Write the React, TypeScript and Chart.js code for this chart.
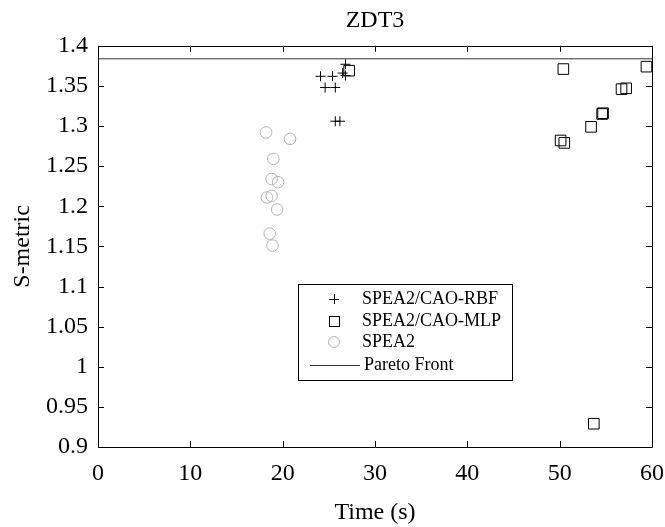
import React, { useEffect, useRef } from "react";
import { Chart, registerables } from "chart.js";

Chart.register(...registerables);

// S-metric vs run time on ZDT3
const rbfTime = [24.1, 25.4, 24.6, 25.7, 26.8, 26.5, 26.8, 25.7, 26.2];
const rbfS = [1.362, 1.362, 1.348, 1.348, 1.377, 1.366, 1.363, 1.306, 1.306];

const mlpTime = [27.2, 50.4, 59.4, 56.7, 57.2, 54.6, 54.7, 53.4, 50.1, 50.5, 53.7];
const mlpS = [1.369, 1.371, 1.374, 1.346, 1.347, 1.315, 1.316, 1.299, 1.282, 1.279, 0.929];

const speaTime = [18.2, 20.8, 19.0, 18.8, 19.5, 18.3, 18.8, 19.4, 18.6, 18.9];
const speaS = [1.292, 1.284, 1.259, 1.234, 1.23, 1.211, 1.213, 1.196, 1.166, 1.151];

const paretoTime = [0, 60];
const paretoS = [1.3838, 1.3838];

const seriesNames = ["SPEA2/CAO-RBF", "SPEA2/CAO-MLP", "SPEA2", "Pareto Front"];

const SERIF = "'Liberation Serif', 'Times New Roman', serif";

const zip = (xs: number[], ys: number[]) => xs.map((x, i) => ({ x, y: ys[i] }));

// Frame with inward tick marks on all four sides, plus a boxed legend
const framePlugin = {
  id: "frameTicks",
  afterDatasetsDraw(chart: any) {
    const { ctx, chartArea: a, scales } = chart;
    const xs = scales.x;
    const ys = scales.y;
    ctx.save();
    ctx.strokeStyle = "#000";
    ctx.lineWidth = 1;
    ctx.beginPath();
    ctx.rect(Math.round(a.left) + 0.5, Math.round(a.top) + 0.5, Math.round(a.right - a.left), Math.round(a.bottom - a.top));
    ctx.stroke();
    const tl = 6;
    ctx.beginPath();
    xs.ticks.forEach((t: any) => {
      const px = Math.round(xs.getPixelForValue(t.value)) + 0.5;
      ctx.moveTo(px, a.bottom);
      ctx.lineTo(px, a.bottom - tl);
      ctx.moveTo(px, a.top);
      ctx.lineTo(px, a.top + tl);
    });
    ys.ticks.forEach((t: any) => {
      const py = Math.round(ys.getPixelForValue(t.value)) + 0.5;
      ctx.moveTo(a.left, py);
      ctx.lineTo(a.left + tl, py);
      ctx.moveTo(a.right, py);
      ctx.lineTo(a.right - tl, py);
    });
    ctx.stroke();

    // legend
    const bx = 298.5, by = 284.5, bw = 214, bh = 96;
    ctx.fillStyle = "#fff";
    ctx.fillRect(bx, by, bw, bh);
    ctx.strokeStyle = "#000";
    ctx.strokeRect(bx, by, bw, bh);
    const rowY = [299, 321, 342, 365];
    const symX = 334;
    const textX = 362;
    ctx.font = `18px ${SERIF}`;
    ctx.textBaseline = "middle";
    ctx.textAlign = "left";
    ctx.fillStyle = "#000";
    // plus
    ctx.beginPath();
    ctx.moveTo(symX - 5, rowY[0] + 0.5);
    ctx.lineTo(symX + 5, rowY[0] + 0.5);
    ctx.moveTo(symX + 0.5, rowY[0] - 5);
    ctx.lineTo(symX + 0.5, rowY[0] + 5);
    ctx.stroke();
    // square
    ctx.strokeRect(symX - 4.5, rowY[1] - 4.5, 10, 10);
    // circle
    ctx.strokeStyle = "#b4b4b4";
    ctx.beginPath();
    ctx.arc(symX, rowY[2], 5.5, 0, Math.PI * 2);
    ctx.stroke();
    // line
    ctx.strokeStyle = "#333";
    ctx.beginPath();
    ctx.moveTo(310, rowY[3] + 0.5);
    ctx.lineTo(360, rowY[3] + 0.5);
    ctx.stroke();
    seriesNames.forEach((n, i) => ctx.fillText(n, i === 3 ? 364 : textX, rowY[i]));
    ctx.restore();
  },
};

export default function App() {
  const ref = useRef<HTMLCanvasElement | null>(null);

  useEffect(() => {
    document.body.style.margin = "0";
    const canvas = ref.current;
    if (!canvas) return;
    const chart = new Chart(canvas, {
      type: "scatter",
      data: {
        datasets: [
          {
            label: seriesNames[0],
            data: zip(rbfTime, rbfS),
            pointStyle: "cross",
            pointRadius: 5,
            borderColor: "#000",
            borderWidth: 1,
            backgroundColor: "transparent",
          },
          {
            label: seriesNames[1],
            data: zip(mlpTime, mlpS),
            pointStyle: "rect",
            pointRadius: 7.5,
            borderColor: "#000",
            borderWidth: 1,
            backgroundColor: "transparent",
          },
          {
            label: seriesNames[2],
            data: zip(speaTime, speaS),
            pointStyle: "circle",
            pointRadius: 5.8,
            borderColor: "#b4b4b4",
            borderWidth: 1,
            backgroundColor: "transparent",
          },
          {
            type: "line",
            label: seriesNames[3],
            data: zip(paretoTime, paretoS),
            showLine: true,
            pointRadius: 0,
            borderColor: "#333",
            borderWidth: 1,
          } as any,
        ],
      },
      options: {
        responsive: false,
        animation: false,
        layout: { padding: { left: 0, right: 13, top: 0, bottom: 0 } },
        plugins: {
          legend: { display: false },
          tooltip: { enabled: false },
          title: {
            display: true,
            fullSize: false,
            text: "ZDT3",
            color: "#000",
            font: { family: SERIF, size: 24, weight: "normal" },
            padding: { top: 6, bottom: 11 },
          },
        },
        scales: {
          x: {
            type: "linear",
            min: 0,
            max: 60,
            ticks: {
              stepSize: 10,
              color: "#000",
              font: { family: SERIF, size: 24 },
              padding: 12,
              maxRotation: 0,
            },
            grid: { display: false, drawTicks: false },
            border: { display: false },
            title: {
              display: true,
              text: "Time (s)",
              color: "#000",
              font: { family: SERIF, size: 24 },
              padding: { top: 0, bottom: 0 },
            },
            afterFit: (s: any) => {
              s.height = 80;
              s.paddingLeft = 0;
              s.paddingRight = 0;
            },
          },
          y: {
            type: "linear",
            min: 0.9,
            max: 1.4,
            ticks: {
              stepSize: 0.05,
              color: "#000",
              font: { family: SERIF, size: 24 },
              padding: 10,
              callback: (v: any) => String(Number(Number(v).toFixed(2))),
            },
            grid: { display: false, drawTicks: false },
            border: { display: false },
            title: {
              display: true,
              text: "S-metric",
              color: "#000",
              font: { family: SERIF, size: 24 },
              padding: { top: 8, bottom: 0 },
            },
            afterFit: (s: any) => {
              s.width = 98;
              s.paddingTop = 0;
              s.paddingBottom = 0;
            },
          },
        },
      },
      plugins: [framePlugin],
    });
    return () => chart.destroy();
  }, []);

  return (
    <div style={{ width: 665, height: 527 }}>
      <canvas ref={ref} width={665} height={527} style={{ display: "block" }} />
    </div>
  );
}
